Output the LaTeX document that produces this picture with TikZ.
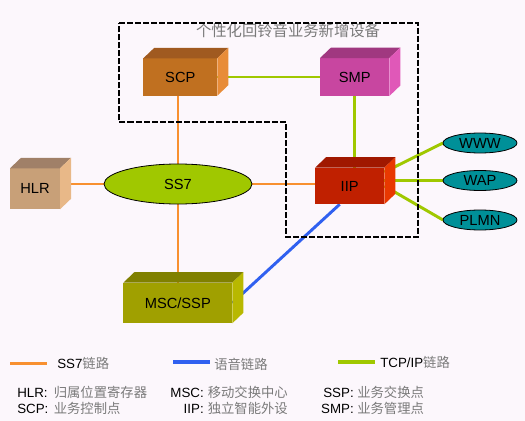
\documentclass[tikz,border=0pt]{standalone}
\usepackage{fontspec}
\setmainfont{Liberation Sans}
\newfontfamily\cjk{Noto Sans CJK SC}
\usetikzlibrary{shapes.geometric}
\definecolor{bgc}{HTML}{FCF7FC}
\definecolor{orln}{HTML}{F89030}
\definecolor{grln}{HTML}{A0C800}
\definecolor{blln}{HTML}{3060F0}
\definecolor{cjkgray}{HTML}{7A7A7A}
\definecolor{scpF}{HTML}{C07020}\definecolor{scpT}{HTML}{A05A20}\definecolor{scpS}{HTML}{E88C38}
\definecolor{smpF}{HTML}{C846A0}\definecolor{smpT}{HTML}{A03880}\definecolor{smpS}{HTML}{E058B8}
\definecolor{iipF}{HTML}{C02000}\definecolor{iipT}{HTML}{A01800}\definecolor{iipS}{HTML}{E83800}
\definecolor{hlrF}{HTML}{C8A078}\definecolor{hlrT}{HTML}{A08068}\definecolor{hlrS}{HTML}{E8B888}
\definecolor{mscF}{HTML}{A0A000}\definecolor{mscT}{HTML}{808000}\definecolor{mscS}{HTML}{B8B800}
\definecolor{teal}{HTML}{009098}
\newdimen\px \px=0.75pt
\pgfdeclarelayer{bg}\pgfdeclarelayer{lines}\pgfsetlayers{bg,lines,main}
\newcommand\cube[9]{%
  \node[cubeface, fill=#6, minimum width=#4\px, minimum height=#5\px] (#1) at (#2,#3) {#9};
  \fill[#7] (#1.north west) -- ++(11,-10.5) -- ([shift={(11,-10.5)}]#1.north east) -- (#1.north east) -- cycle;
  \fill[#8] (#1.north east) -- ++(11,-10.5) -- ([shift={(11,-10.5)}]#1.south east) -- (#1.south east) -- cycle;
}
\tikzset{
  cubeface/.style={rectangle, inner sep=0pt, outer sep=0pt, font=\fontsize{11pt}{13pt}\selectfont},
  oval/.style={ellipse, draw=black, line width=0.6pt, inner sep=0pt, outer sep=0pt, font=\fontsize{11pt}{13pt}\selectfont},
  ss7ln/.style={orln, line width=2.2pt},
  tcpln/.style={grln, line width=2.2pt},
  voxln/.style={blln, line width=2.2pt},
  bound/.style={black, line width=1.5pt, dash pattern=on 4.5pt off 1.5pt},
  lbl/.style={inner sep=0pt, font=\fontsize{10pt}{12pt}\selectfont},
  cn/.style={inner sep=0pt, text=cjkgray, font=\fontsize{10pt}{12pt}\selectfont\cjk},
}
\begin{document}
\begin{tikzpicture}[x=0.75pt, y=-0.75pt]
\useasboundingbox (0,0) rectangle (525,421);
\begin{pgfonlayer}{bg}
\fill[bgc] (0,0) rectangle (525,421);
\end{pgfonlayer}

% boxes
\cube{hlr}{35}{188.8}{50}{41}{hlrF}{hlrT}{hlrS}{HLR}
\cube{scp}{180.3}{77}{74}{37.4}{scpF}{scpT}{scpS}{SCP}
\cube{smp}{354.7}{77}{69.3}{38}{smpF}{smpT}{smpS}{SMP}
\cube{iip}{349.7}{186}{69.3}{36.6}{iipF}{iipT}{iipS}{IIP}
\cube{msc}{177.8}{303}{109}{40.6}{mscF}{mscT}{mscS}{MSC/SSP}

% ellipses
\node[oval, fill=grln, minimum width=148\px, minimum height=40\px] (ss7) at (178,184) {SS7};
\node[oval, fill=teal, minimum width=74\px, minimum height=20\px] (www) at (480,143) {WWW};
\node[oval, fill=teal, minimum width=74\px, minimum height=20\px] (wap) at (480,180.5) {WAP};
\node[oval, fill=teal, minimum width=74\px, minimum height=20\px] (plmn) at (480,220) {PLMN};

% title
\node[cn, font=\fontsize{11.5pt}{13pt}\selectfont\cjk] (title) at (288,31) {个性化回铃音业务新增设备};

% connectors
\begin{pgfonlayer}{lines}
\draw[ss7ln] (ss7.west) -- (ss7.west -| hlr.east);
\draw[ss7ln] (ss7.east) -- (ss7.east -| iip.west);
\draw[ss7ln] (ss7.north) -- (ss7.north |- scp.south);
\draw[ss7ln] (ss7.south) -- (ss7.south |- msc.north);
\draw[tcpln] (scp.east) -- (smp.west);
\draw[tcpln] (smp.south) -- (smp.south |- iip.north);
\draw[voxln] ([xshift=-10\px]iip.south) -- (msc.east);
\draw[tcpln] ([yshift=14\px]iip.east) -- (www.west);
\draw[tcpln] (wap.west -| iip.east) -- (wap.west);
\draw[tcpln] (iip.east) -- (plmn.west);
\end{pgfonlayer}

% dashed boundary
\draw[bound] (119,22.5) -- (418,22.5) -- (418,236.5) -- (286,236.5) -- (286,122) -- (119,122) -- cycle;

% legend
\coordinate (l1a) at (10,363.5); \coordinate (l1b) at (47,363.5);
\coordinate (l2a) at (173,362); \coordinate (l2b) at (210,362);
\coordinate (l3a) at (338,362); \coordinate (l3b) at (375,362);
\draw[ss7ln, line width=2.5pt] (l1a) -- (l1b);
\draw[voxln, line width=2.5pt] (l2a) -- (l2b);
\draw[tcpln, line width=2.5pt] (l3a) -- (l3b);
\node[lbl, anchor=west] (leg1) at (57,363) {SS7{\color{cjkgray}\cjk 链路}};
\node[lbl, anchor=west] (leg2) at (214,364) {{\color{cjkgray}\cjk 语音链路}};
\node[lbl, anchor=west] (leg3) at (380,362) {TCP/IP{\color{cjkgray}\cjk 链路}};

\node[lbl, anchor=base west] (hlrk) at (17,397.5) {HLR:};
\node[cn, anchor=base west] (hlrv) at (53.5,397.5) {归属位置寄存器};
\node[lbl, anchor=base west] (scpk) at (17,413.5) {SCP:};
\node[cn, anchor=base west] (scpv) at (53.5,413.5) {业务控制点};
\node[lbl, anchor=base east] (msck) at (204,397.5) {MSC:};
\node[cn, anchor=base west] (mscv) at (207.5,397.5) {移动交换中心};
\node[lbl, anchor=base east] (iipk) at (204,413.5) {IIP:};
\node[cn, anchor=base west] (iipv) at (207.5,413.5) {独立智能外设};
\node[lbl, anchor=base east] (sspk) at (354,397.5) {SSP:};
\node[cn, anchor=base west] (sspv) at (357,397.5) {业务交换点};
\node[lbl, anchor=base east] (smpk) at (354,413.5) {SMP:};
\node[cn, anchor=base west] (smpv) at (357,413.5) {业务管理点};
\end{tikzpicture}
\end{document}
